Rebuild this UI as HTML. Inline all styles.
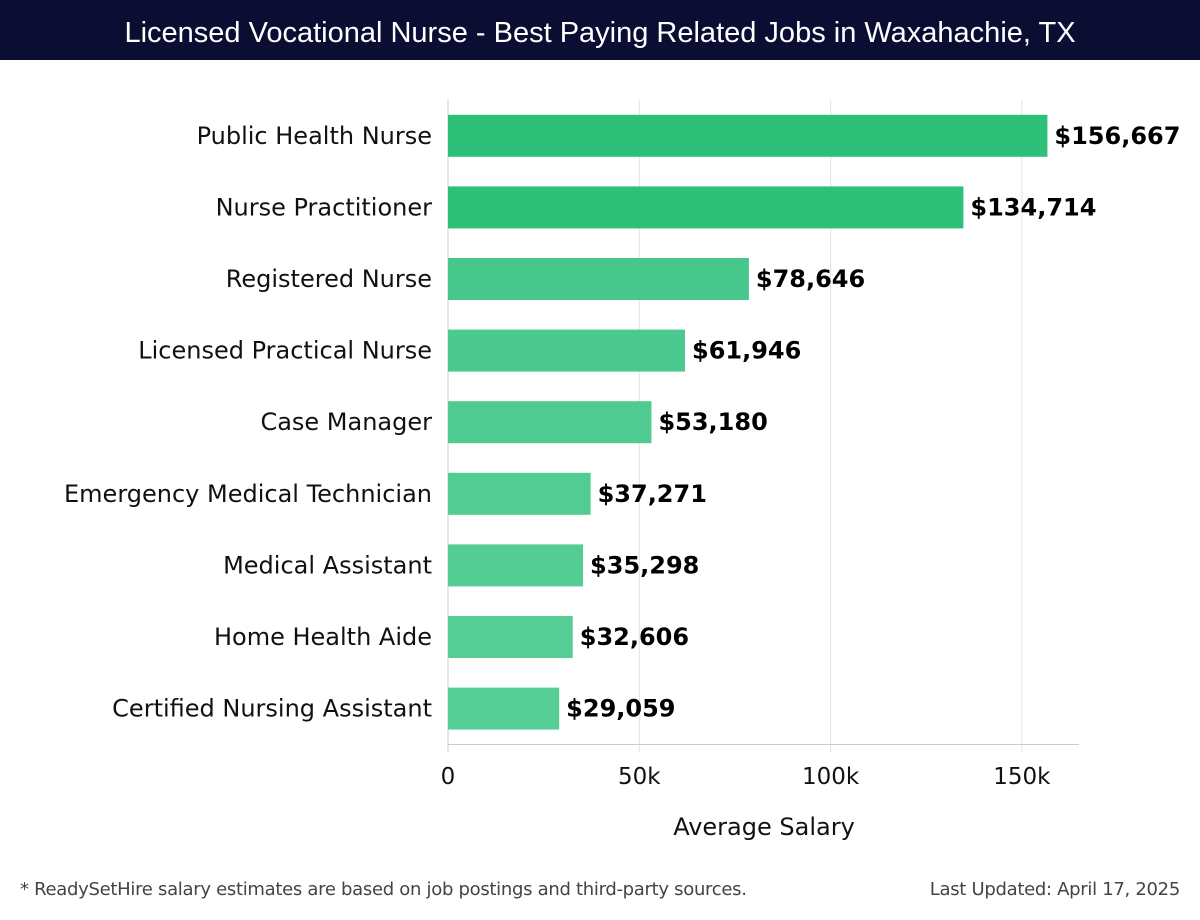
<!DOCTYPE html>
<html><head><meta charset="utf-8">
<style>
body{margin:0;width:1200px;height:920px;background:#fff;font-family:"DejaVu Sans","Liberation Sans",sans-serif;overflow:hidden}
#title{position:absolute;left:0;top:0;width:1200px;height:60px;background:#0c0d33;color:#fff;font-size:29px;line-height:66px;text-align:center;font-family:"Liberation Sans",sans-serif}
svg{position:absolute;left:0;top:0}
.foot{position:absolute;top:879px;font-size:18px;color:#444;font-family:"DejaVu Sans",sans-serif;letter-spacing:-0.3px}
</style></head><body>
<div id="title">Licensed Vocational Nurse - Best Paying Related Jobs in Waxahachie, TX</div>
<svg id="chart" width="1200" height="920"></svg>
<div class="foot" style="left:20px">* ReadySetHire salary estimates are based on job postings and third-party sources.</div>
<div class="foot" style="right:20px">Last Updated: April 17, 2025</div>
<script>
const categories=["Public Health Nurse","Nurse Practitioner","Registered Nurse","Licensed Practical Nurse","Case Manager","Emergency Medical Technician","Medical Assistant","Home Health Aide","Certified Nursing Assistant"];
const salaries=[156667,134714,78646,61946,53180,37271,35298,32606,29059];
const valueLabels=["$156,667","$134,714","$78,646","$61,946","$53,180","$37,271","$35,298","$32,606","$29,059"];
const tickValues=[0,50000,100000,150000];
const tickLabels=["0","50k","100k","150k"];

const NS="http://www.w3.org/2000/svg";
const svg=document.getElementById('chart');
const x0=448, pxPer=191.3/50000, plotTop=100, band=71.6;
const xs=v=>x0+v*pxPer;
const yc=i=>plotTop+band*(i+0.5);
function mk(tag,attrs,txt){const e=document.createElementNS(NS,tag);for(const k in attrs)e.setAttribute(k,attrs[k]);if(txt!==undefined)e.textContent=txt;svg.appendChild(e);return e;}
tickValues.forEach((t,i)=>{
  const g=mk('line',{x1:xs(t),x2:xs(t),y1:100,y2:752,stroke:i===0?'#ccc':'#e2e2e2','stroke-width':1});
  
  
  const l=mk('text',{x:xs(t),y:784,'text-anchor':'middle','font-size':23,fill:'#111'},tickLabels[i]);
  
  
});
const ax=mk('line',{x1:448,x2:1079,y1:744.5,y2:744.5,stroke:'#ccc','stroke-width':1});


const colors=['#2ebf78','#2ebf78','#48c78c','#4cc98e','#4fca90','#52cc93','#54cd94','#55cd95','#57ce96'];
categories.forEach((c,i)=>{
  const y=yc(i);
  const r=mk('rect',{x:x0,y:y-21,width:xs(salaries[i])-x0,height:42,fill:colors[i]});
  
  
  const t=mk('text',{x:432,y:y+8,'text-anchor':'end','font-size':24,fill:'#111'},c);
  
  
  const v=mk('text',{x:xs(salaries[i])+7,y:y+8,'font-size':24,'font-weight':'bold',fill:'#000'},valueLabels[i]);
  
  
});
const at=mk('text',{x:764,y:835,'text-anchor':'middle','font-size':24,fill:'#111'},'Average Salary');


</script>
</body></html>
